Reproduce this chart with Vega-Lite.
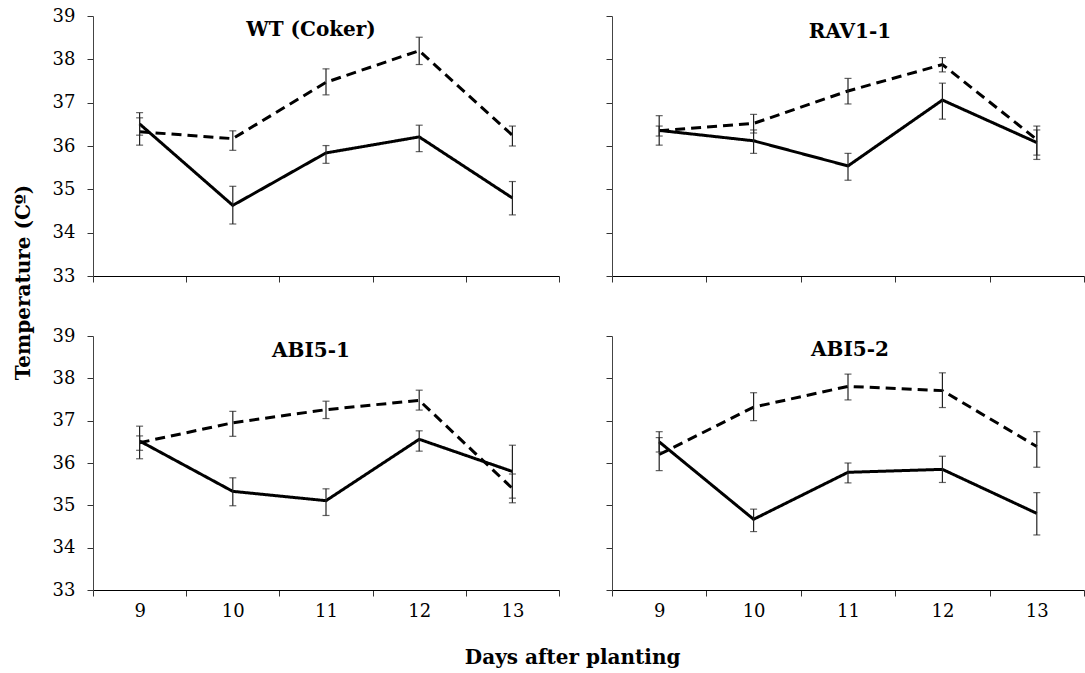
{
  "$schema": "https://vega.github.io/schema/vega-lite/v6.json",
  "padding": {"left": 14, "top": 7, "right": 0, "bottom": 0},
  "background": "white",
  "config": {
    "font": "DejaVu Serif",
    "view": {"stroke": null},
    "axis": {
      "labelFont": "DejaVu Serif",
      "labelFontSize": 18,
      "labelColor": "#000",
      "grid": false,
      "tickSize": 6,
      "tickColor": "#333",
      "domainColor": "#222"
    },
    "title": {"font": "DejaVu Serif", "fontWeight": "bold", "color": "#000"}
  },
  "datasets": {
    "temps": [
      {"panel": "WT", "day": 9, "series": "solid", "mean": 36.51, "lo": 36.25, "hi": 36.77},
      {"panel": "WT", "day": 10, "series": "solid", "mean": 34.63, "lo": 34.2, "hi": 35.07},
      {"panel": "WT", "day": 11, "series": "solid", "mean": 35.84, "lo": 35.6, "hi": 36.01},
      {"panel": "WT", "day": 12, "series": "solid", "mean": 36.21, "lo": 35.87, "hi": 36.48},
      {"panel": "WT", "day": 13, "series": "solid", "mean": 34.8, "lo": 34.41, "hi": 35.18},
      {"panel": "WT", "day": 9, "series": "dashed", "mean": 36.33, "lo": 36.02, "hi": 36.65},
      {"panel": "WT", "day": 10, "series": "dashed", "mean": 36.17, "lo": 35.9, "hi": 36.35},
      {"panel": "WT", "day": 11, "series": "dashed", "mean": 37.47, "lo": 37.18, "hi": 37.78},
      {"panel": "WT", "day": 12, "series": "dashed", "mean": 38.2, "lo": 37.88, "hi": 38.51},
      {"panel": "WT", "day": 13, "series": "dashed", "mean": 36.25, "lo": 36.0, "hi": 36.46},

      {"panel": "RAV", "day": 9, "series": "solid", "mean": 36.36, "lo": 36.02, "hi": 36.7},
      {"panel": "RAV", "day": 10, "series": "solid", "mean": 36.12, "lo": 35.83, "hi": 36.37},
      {"panel": "RAV", "day": 11, "series": "solid", "mean": 35.54, "lo": 35.21, "hi": 35.83},
      {"panel": "RAV", "day": 12, "series": "solid", "mean": 37.06, "lo": 36.62, "hi": 37.45},
      {"panel": "RAV", "day": 13, "series": "solid", "mean": 36.08, "lo": 35.69, "hi": 36.46},
      {"panel": "RAV", "day": 9, "series": "dashed", "mean": 36.35, "lo": 36.23, "hi": 36.46},
      {"panel": "RAV", "day": 10, "series": "dashed", "mean": 36.52, "lo": 36.3, "hi": 36.73},
      {"panel": "RAV", "day": 11, "series": "dashed", "mean": 37.27, "lo": 36.97, "hi": 37.56},
      {"panel": "RAV", "day": 12, "series": "dashed", "mean": 37.88, "lo": 37.71, "hi": 38.04},
      {"panel": "RAV", "day": 13, "series": "dashed", "mean": 36.15, "lo": 35.79, "hi": 36.37},

      {"panel": "ABI1", "day": 9, "series": "solid", "mean": 36.52, "lo": 36.1, "hi": 36.87},
      {"panel": "ABI1", "day": 10, "series": "solid", "mean": 35.33, "lo": 34.99, "hi": 35.65},
      {"panel": "ABI1", "day": 11, "series": "solid", "mean": 35.11, "lo": 34.76, "hi": 35.39},
      {"panel": "ABI1", "day": 12, "series": "solid", "mean": 36.56, "lo": 36.28, "hi": 36.76},
      {"panel": "ABI1", "day": 13, "series": "solid", "mean": 35.8, "lo": 35.17, "hi": 36.42},
      {"panel": "ABI1", "day": 9, "series": "dashed", "mean": 36.48, "lo": 36.3, "hi": 36.64},
      {"panel": "ABI1", "day": 10, "series": "dashed", "mean": 36.95, "lo": 36.63, "hi": 37.22},
      {"panel": "ABI1", "day": 11, "series": "dashed", "mean": 37.26, "lo": 37.05, "hi": 37.46},
      {"panel": "ABI1", "day": 12, "series": "dashed", "mean": 37.48, "lo": 37.25, "hi": 37.72},
      {"panel": "ABI1", "day": 13, "series": "dashed", "mean": 35.4, "lo": 35.06, "hi": 35.74},

      {"panel": "ABI2", "day": 9, "series": "solid", "mean": 36.5, "lo": 36.26, "hi": 36.74},
      {"panel": "ABI2", "day": 10, "series": "solid", "mean": 34.67, "lo": 34.38, "hi": 34.91},
      {"panel": "ABI2", "day": 11, "series": "solid", "mean": 35.78, "lo": 35.53, "hi": 36.0},
      {"panel": "ABI2", "day": 12, "series": "solid", "mean": 35.85, "lo": 35.54, "hi": 36.16},
      {"panel": "ABI2", "day": 13, "series": "solid", "mean": 34.81, "lo": 34.3, "hi": 35.3},
      {"panel": "ABI2", "day": 9, "series": "dashed", "mean": 36.2, "lo": 35.82, "hi": 36.6},
      {"panel": "ABI2", "day": 10, "series": "dashed", "mean": 37.32, "lo": 37.0, "hi": 37.66},
      {"panel": "ABI2", "day": 11, "series": "dashed", "mean": 37.81, "lo": 37.49, "hi": 38.1},
      {"panel": "ABI2", "day": 12, "series": "dashed", "mean": 37.71, "lo": 37.31, "hi": 38.13},
      {"panel": "ABI2", "day": 13, "series": "dashed", "mean": 36.39, "lo": 35.9, "hi": 36.74}
    ]
  },
  "title": {"text": "Days after planting", "orient": "bottom", "anchor": "middle", "fontSize": 20, "offset": 28},
  "vconcat": [
    {
      "title": {"text": "Temperature (Cº)", "orient": "left", "anchor": "middle", "fontSize": 20, "offset": 18, "dx": 31},
      "columns": 2,
      "spacing": {"row": 60, "column": 53},
      "bounds": "flush",
      "concat": [
        {
          "width": 466, "height": 260,
          "title": {"text": "WT (Coker)", "fontSize": 20, "offset": -49, "baseline": "alphabetic", "anchor": "middle", "dx": -15},
          "data": {"name": "temps"},
          "transform": [{"filter": "datum.panel === 'WT'"}],
          "encoding": {
            "x": {"field": "day", "type": "quantitative", "scale": {"domain": [8.5, 13.5], "nice": false, "zero": false},
              "axis": {"title": null, "values": [8.5, 9.5, 10.5, 11.5, 12.5, 13.5], "labels": false, "domainColor": "#000"}}
          },
          "layer": [
            {"mark": {"type": "line", "color": "#000", "strokeWidth": 3, "strokeCap": "butt"},
             "encoding": {"y": {"field": "mean", "type": "quantitative", "scale": {"domain": [33, 39], "nice": false, "zero": false},
               "axis": {"title": null, "values": [33, 34, 35, 36, 37, 38, 39], "labelPadding": 12, "domainColor": "#444"}},
               "strokeDash": {"field": "series", "type": "nominal", "scale": {"domain": ["solid", "dashed"], "range": [[1, 0], [10, 6]]}, "legend": null}}},
            {"mark": {"type": "rule", "color": "#222", "strokeWidth": 1.2},
             "encoding": {"y": {"field": "lo", "type": "quantitative", "axis": {"title": null, "values": [33, 34, 35, 36, 37, 38, 39], "labelPadding": 12, "domainColor": "#444"}}, "y2": {"field": "hi"}}},
            {"mark": {"type": "tick", "orient": "horizontal", "color": "#222", "size": 7, "thickness": 1.2},
             "encoding": {"y": {"field": "lo", "type": "quantitative", "axis": {"title": null, "values": [33, 34, 35, 36, 37, 38, 39], "labelPadding": 12, "domainColor": "#444"}}}},
            {"mark": {"type": "tick", "orient": "horizontal", "color": "#222", "size": 7, "thickness": 1.2},
             "encoding": {"y": {"field": "hi", "type": "quantitative", "axis": {"title": null, "values": [33, 34, 35, 36, 37, 38, 39], "labelPadding": 12, "domainColor": "#444"}}}}
          ]
        },
        {
          "width": 472, "height": 260,
          "title": {"text": "RAV1-1", "fontSize": 20, "offset": -42, "baseline": "alphabetic", "anchor": "middle", "dx": 2},
          "data": {"name": "temps"},
          "transform": [{"filter": "datum.panel === 'RAV'"}],
          "encoding": {
            "x": {"field": "day", "type": "quantitative", "scale": {"domain": [8.5, 13.5], "nice": false, "zero": false},
              "axis": {"title": null, "values": [8.5, 9.5, 10.5, 11.5, 12.5, 13.5], "labels": false, "domainColor": "#000"}}
          },
          "layer": [
            {"mark": {"type": "line", "color": "#000", "strokeWidth": 3, "strokeCap": "butt"},
             "encoding": {"y": {"field": "mean", "type": "quantitative", "scale": {"domain": [33, 39], "nice": false, "zero": false},
               "axis": {"title": null, "values": [33, 34, 35, 36, 37, 38, 39], "labels": false, "domainColor": "#444"}},
               "strokeDash": {"field": "series", "type": "nominal", "scale": {"domain": ["solid", "dashed"], "range": [[1, 0], [10, 6]]}, "legend": null}}},
            {"mark": {"type": "rule", "color": "#222", "strokeWidth": 1.2},
             "encoding": {"y": {"field": "lo", "type": "quantitative", "axis": {"title": null, "values": [33, 34, 35, 36, 37, 38, 39], "labels": false, "domainColor": "#444"}}, "y2": {"field": "hi"}}},
            {"mark": {"type": "tick", "orient": "horizontal", "color": "#222", "size": 7, "thickness": 1.2},
             "encoding": {"y": {"field": "lo", "type": "quantitative", "axis": {"title": null, "values": [33, 34, 35, 36, 37, 38, 39], "labels": false, "domainColor": "#444"}}}},
            {"mark": {"type": "tick", "orient": "horizontal", "color": "#222", "size": 7, "thickness": 1.2},
             "encoding": {"y": {"field": "hi", "type": "quantitative", "axis": {"title": null, "values": [33, 34, 35, 36, 37, 38, 39], "labels": false, "domainColor": "#444"}}}}
          ]
        },
        {
          "width": 466, "height": 254,
          "title": {"text": "ABI5-1", "fontSize": 20, "offset": -50, "baseline": "alphabetic", "anchor": "middle", "dx": -15},
          "data": {"name": "temps"},
          "transform": [{"filter": "datum.panel === 'ABI1'"}],
          "encoding": {
            "x": {"field": "day", "type": "quantitative", "scale": {"domain": [8.5, 13.5], "nice": false, "zero": false},
              "axis": {"title": null, "values": [8.5, 9.5, 10.5, 11.5, 12.5, 13.5], "labelExpr": "datum.value < 13 ? format(datum.value + 0.5, 'd') : ''", "labelOffset": 46.6, "labelOverlap": false, "labelFlush": false, "labelBound": false, "labelPadding": 6, "domainColor": "#000"}}
          },
          "layer": [
            {"mark": {"type": "line", "color": "#000", "strokeWidth": 3, "strokeCap": "butt"},
             "encoding": {"y": {"field": "mean", "type": "quantitative", "scale": {"domain": [33, 39], "nice": false, "zero": false},
               "axis": {"title": null, "values": [33, 34, 35, 36, 37, 38, 39], "labelPadding": 12, "domainColor": "#444"}},
               "strokeDash": {"field": "series", "type": "nominal", "scale": {"domain": ["solid", "dashed"], "range": [[1, 0], [10, 6]]}, "legend": null}}},
            {"mark": {"type": "rule", "color": "#222", "strokeWidth": 1.2},
             "encoding": {"y": {"field": "lo", "type": "quantitative", "axis": {"title": null, "values": [33, 34, 35, 36, 37, 38, 39], "labelPadding": 12, "domainColor": "#444"}}, "y2": {"field": "hi"}}},
            {"mark": {"type": "tick", "orient": "horizontal", "color": "#222", "size": 7, "thickness": 1.2},
             "encoding": {"y": {"field": "lo", "type": "quantitative", "axis": {"title": null, "values": [33, 34, 35, 36, 37, 38, 39], "labelPadding": 12, "domainColor": "#444"}}}},
            {"mark": {"type": "tick", "orient": "horizontal", "color": "#222", "size": 7, "thickness": 1.2},
             "encoding": {"y": {"field": "hi", "type": "quantitative", "axis": {"title": null, "values": [33, 34, 35, 36, 37, 38, 39], "labelPadding": 12, "domainColor": "#444"}}}}
          ]
        },
        {
          "width": 472, "height": 254,
          "title": {"text": "ABI5-2", "fontSize": 20, "offset": -40, "baseline": "alphabetic", "anchor": "middle", "dx": 2},
          "data": {"name": "temps"},
          "transform": [{"filter": "datum.panel === 'ABI2'"}],
          "encoding": {
            "x": {"field": "day", "type": "quantitative", "scale": {"domain": [8.5, 13.5], "nice": false, "zero": false},
              "axis": {"title": null, "values": [8.5, 9.5, 10.5, 11.5, 12.5, 13.5], "labelExpr": "datum.value < 13 ? format(datum.value + 0.5, 'd') : ''", "labelOffset": 47.2, "labelOverlap": false, "labelFlush": false, "labelBound": false, "labelPadding": 6, "domainColor": "#000"}}
          },
          "layer": [
            {"mark": {"type": "line", "color": "#000", "strokeWidth": 3, "strokeCap": "butt"},
             "encoding": {"y": {"field": "mean", "type": "quantitative", "scale": {"domain": [33, 39], "nice": false, "zero": false},
               "axis": {"title": null, "values": [33, 34, 35, 36, 37, 38, 39], "labels": false, "domainColor": "#444"}},
               "strokeDash": {"field": "series", "type": "nominal", "scale": {"domain": ["solid", "dashed"], "range": [[1, 0], [10, 6]]}, "legend": null}}},
            {"mark": {"type": "rule", "color": "#222", "strokeWidth": 1.2},
             "encoding": {"y": {"field": "lo", "type": "quantitative", "axis": {"title": null, "values": [33, 34, 35, 36, 37, 38, 39], "labels": false, "domainColor": "#444"}}, "y2": {"field": "hi"}}},
            {"mark": {"type": "tick", "orient": "horizontal", "color": "#222", "size": 7, "thickness": 1.2},
             "encoding": {"y": {"field": "lo", "type": "quantitative", "axis": {"title": null, "values": [33, 34, 35, 36, 37, 38, 39], "labels": false, "domainColor": "#444"}}}},
            {"mark": {"type": "tick", "orient": "horizontal", "color": "#222", "size": 7, "thickness": 1.2},
             "encoding": {"y": {"field": "hi", "type": "quantitative", "axis": {"title": null, "values": [33, 34, 35, 36, 37, 38, 39], "labels": false, "domainColor": "#444"}}}}
          ]
        }
      ]
    }
  ]
}
